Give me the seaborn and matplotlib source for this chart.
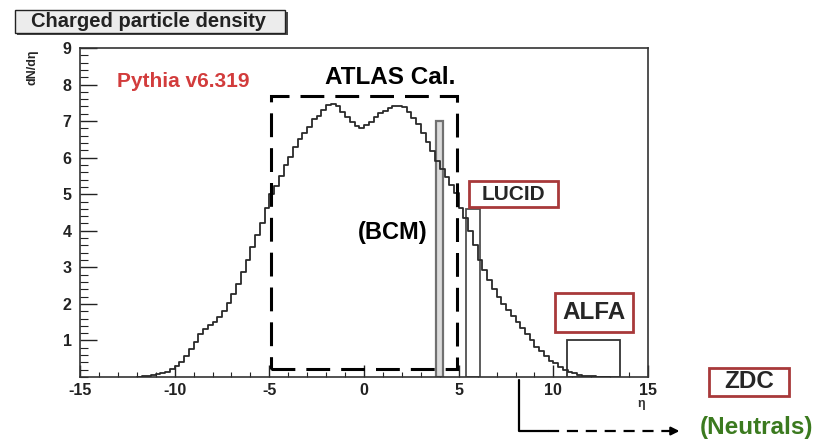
import numpy as np
import pandas as pd
import seaborn as sns
import matplotlib.pyplot as plt
from matplotlib.patches import Rectangle, FancyArrowPatch
from matplotlib.lines import Line2D

# Charged particle density dN/deta (Pythia v6.319), 0.25-wide bins starting at eta = -12
eta_start = -12.0
bin_width = 0.25
dndeta = [
    0.01, 0.02, 0.03, 0.05, 0.07, 0.10, 0.14, 0.21, 0.30, 0.42,
    0.58, 0.77, 0.97, 1.17, 1.30, 1.42, 1.50, 1.63, 1.80, 2.02,
    2.27, 2.55, 2.86, 3.20, 3.55, 3.88, 4.20, 4.62, 5.00, 5.22,
    5.50, 5.80, 6.02, 6.30, 6.52, 6.68, 6.85, 7.05, 7.15, 7.30,
    7.45, 7.48, 7.40, 7.25, 7.10, 6.98, 6.86, 6.82, 6.88, 6.97,
    7.10, 7.22, 7.28, 7.35, 7.40, 7.42, 7.38, 7.25, 7.08, 6.92,
    6.68, 6.42, 6.18, 5.90, 5.68, 5.48, 5.25, 5.02, 4.62, 4.35,
    3.98, 3.62, 3.20, 2.92, 2.66, 2.40, 2.18, 2.00, 1.82, 1.66,
    1.50, 1.35, 1.18, 1.00, 0.83, 0.70, 0.57, 0.45, 0.37, 0.28,
    0.20, 0.14, 0.10, 0.06, 0.04, 0.02, 0.02, 0.01, 0.01, 0.00,
]

# detector acceptances drawn as bars: eta range and height
detectors = ["BCM", "LUCID", "ALFA"]
det_eta_lo = [3.8, 5.4, 10.7]
det_eta_hi = [4.15, 6.1, 13.5]
det_height = [7.0, 4.6, 1.0]

# ATLAS calorimeter acceptance box
cal_eta = [-4.9, 4.9]
cal_y = [0.22, 7.7]

n_bins = len(dndeta)
eta_end = eta_start + bin_width * n_bins
df = pd.DataFrame({"eta": eta_start + bin_width * (np.arange(n_bins) + 0.5),
                   "dndeta": dndeta})

sns.set_theme(style="ticks")
plt.rcParams["font.family"] = ["Liberation Sans", "DejaVu Sans"]
plt.rcParams["font.weight"] = "bold"
plt.rcParams["axes.unicode_minus"] = False

fig = plt.figure(figsize=(8.21, 4.43), dpi=100)
ax = fig.add_axes([0.0974, 0.149, 0.692, 0.7427])

dark_red = "#a8393a"

# detector bars
bar_styles = {
    "BCM": dict(facecolor="#dcdcdc", edgecolor="#707070", linewidth=1.6),
    "LUCID": dict(facecolor="white", edgecolor="#505050", linewidth=1.3),
    "ALFA": dict(facecolor="white", edgecolor="#333333", linewidth=1.3),
}
for name, lo, hi, h in zip(detectors, det_eta_lo, det_eta_hi, det_height):
    ax.bar(lo, h, width=hi - lo, align="edge", zorder=2, **bar_styles[name])

# the distribution
sns.histplot(data=df, x="eta", weights="dndeta", binwidth=bin_width,
             binrange=(eta_start, eta_end), element="step", fill=False,
             color="#2a2a2a", linewidth=1.3, ax=ax, zorder=3)

# ATLAS Cal. dashed box
ax.add_patch(Rectangle((cal_eta[0], cal_y[0]), cal_eta[1] - cal_eta[0], cal_y[1] - cal_y[0],
                       fill=False, edgecolor="black", linewidth=2.2,
                       linestyle=(0, (7.8, 3.6)), zorder=4))

ax.set_xlim(-15, 15)
ax.set_ylim(0, 9)
ax.set_xticks(range(-15, 16, 5))
ax.set_xticks(range(-15, 16), minor=True)
ax.set_yticks(range(1, 10))
ax.set_yticks(np.arange(0, 9.01, 0.2), minor=True)
ax.set_xlabel("")
ax.set_ylabel("")
ax.tick_params(axis="both", which="both", direction="in", labelsize=11.5, colors="#222222")
ax.tick_params(axis="x", which="major", length=9, width=1, pad=4)
ax.tick_params(axis="x", which="minor", length=3.5, width=0.8)
ax.tick_params(axis="y", which="major", length=12, width=1, pad=6)
ax.tick_params(axis="y", which="minor", length=5.5, width=0.8)
for sp in ax.spines.values():
    sp.set_visible(True)
    sp.set_color("#333333")
    sp.set_linewidth(1.2)
for lab in ax.get_xticklabels() + ax.get_yticklabels():
    lab.set_fontweight("bold")

# annotations inside the axes
ax.text(-13.05, 8.07, "Pythia v6.319", color="#d23c3c", fontsize=15, fontweight="bold",
        ha="left", va="center")
ax.text(1.4, 8.2, "ATLAS Cal.", color="black", fontsize=17.5, fontweight="bold",
        ha="center", va="center", zorder=5,
        bbox=dict(boxstyle="square,pad=0.05", fc="white", ec="none"))
ax.text(1.5, 3.95, "(BCM)", color="black", fontsize=17, fontweight="bold",
        ha="center", va="center")

def red_box(x0, x1, y0, y1, label, size):
    ax.add_patch(Rectangle((x0, y0), x1 - x0, y1 - y0, facecolor="white",
                           edgecolor=dark_red, linewidth=2, zorder=5))
    ax.text((x0 + x1) / 2, (y0 + y1) / 2, label, fontsize=size, fontweight="bold",
            ha="center", va="center", zorder=6)

red_box(5.55, 10.25, 4.65, 5.36, "LUCID", 15)
red_box(10.1, 14.2, 1.23, 2.3, "ALFA", 17.5)

# title box with shadow
fig.add_artist(Rectangle((0.021, 0.921), 0.330, 0.052, transform=fig.transFigure,
                         facecolor="#4a4a4a", edgecolor="none"))
fig.add_artist(Rectangle((0.018, 0.926), 0.329, 0.052, transform=fig.transFigure,
                         facecolor="#ececec", edgecolor="#222222", linewidth=1))
fig.text(0.181, 0.952, "Charged particle density", fontsize=14.5, fontweight="bold",
         ha="center", va="center", color="#222222")

# axis titles
fig.text(0.040, 0.888, "dN/d\u03b7", rotation=90, fontsize=9, fontweight="bold",
         ha="center", va="top")
fig.text(0.781, 0.088, "\u03b7", fontsize=9, ha="center", va="center", color="#333333")

# ZDC box, outside the axes
fig.add_artist(Rectangle((0.8636, 0.106), 0.0974, 0.0634, transform=fig.transFigure,
                         facecolor="white", edgecolor=dark_red, linewidth=2))
fig.text(0.912, 0.138, "ZDC", fontsize=17.5, fontweight="bold", ha="center", va="center")
fig.text(0.922, 0.035, "(Neutrals)", fontsize=17.5, fontweight="bold", color="#3b7a1f",
         ha="center", va="center")

# arrow pointing towards ZDC
fig.add_artist(Line2D([0.632, 0.632, 0.668], [0.142, 0.027, 0.027], color="black",
                      linewidth=1.6, transform=fig.transFigure))
fig.add_artist(Line2D([0.668, 0.815], [0.027, 0.027], color="black", linewidth=1.6,
                      linestyle=(0, (5, 3.5)), transform=fig.transFigure))
fig.add_artist(FancyArrowPatch((0.812, 0.027), (0.831, 0.027), transform=fig.transFigure,
                               arrowstyle="-|>", mutation_scale=12, color="black",
                               linewidth=1.6))

plt.savefig("out.png", dpi=100)
